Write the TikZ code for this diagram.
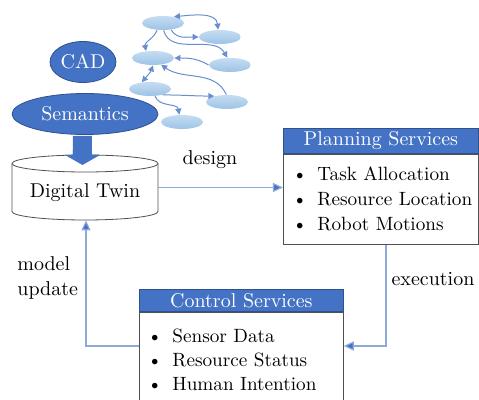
\documentclass[tikz,border=0pt]{standalone}
\usepackage{tikz}
\usetikzlibrary{shapes.geometric,arrows.meta,positioning}
\definecolor{dtblue}{HTML}{4472C4}
\definecolor{dtedge}{HTML}{2F528F}
\definecolor{dtlight}{HTML}{9DC3E6}
\definecolor{dtpale}{HTML}{C5DDF2}
\definecolor{dtline}{HTML}{8EA9DB}
\definecolor{dtgray}{HTML}{505050}

\tikzset{
  darkoval/.style={ellipse, draw=dtedge, fill=dtblue, text=white, inner sep=0pt, minimum height=20.5pt},
  smalloval/.style={ellipse, top color=dtpale, bottom color=dtlight, draw=none, minimum width=21pt, minimum height=7pt, inner sep=0pt},
  graphlink/.style={draw=dtblue!80, line width=0.5pt, -{Triangle[length=3pt,width=3pt]}},
  titlebar/.style={rectangle, draw=dtedge, fill=dtblue, text=white, minimum height=12.5pt, inner sep=0pt},
  listbox/.style={rectangle, draw=dtgray, fill=white, align=left, inner sep=0pt, font=\fontsize{9.6}{12.5}\selectfont},
  flow/.style={draw=dtline, line width=0.6pt, -{Triangle[length=5pt,width=4.5pt,fill=dtblue]}},
}

\begin{document}
\begin{tikzpicture}[x=0.5pt, y=-0.5pt]
   \useasboundingbox (0,0) rectangle (479,400);
   % knowledge graph
   \begin{scope}[every node/.style={smalloval}]
    \node (g1) at (163,23) {};
    \node (g2) at (220,37) {};
    \node (g3) at (153,58) {};
    \node (g4) at (230,65) {};
    \node (g5) at (150,89) {};
    \node (g6) at (227,102) {};
    \node (g7) at (182,122) {};
   \end{scope}
   \begin{scope}[every path/.style={graphlink}]
    \draw[{Triangle[length=3pt,width=3pt]}-{Triangle[length=3pt,width=3pt]}] (g1.30) to[out=5, in=95] (g2.105);
    \draw (g1.-40) to[out=-60, in=180] (g2.west);
    \draw (g1.230) to[out=-110, in=100] (g3.135);
    \draw (g1.-85) to[out=-75, in=120] (g4.110);
    \draw (g4.west) to[out=150, in=0] (g3.east);
    \draw[{Triangle[length=3pt,width=3pt]}-{Triangle[length=3pt,width=3pt]}] (g5.140) to[out=50, in=-110] (g3.-90);
    \draw (g6.95) to[out=115, in=-35] (g3.-40);
    \draw (g5.-25) to[out=0, in=180] (g6.155);
    \draw (g5.-55) to[out=-70, in=100] (g7.110);
   \end{scope}
   % sources of the twin
   \node[darkoval, minimum width=33pt] (cad) at (83,62) {CAD};
   \fill[dtblue] (73,136) -- (92,136) -- (92,155) -- (100,155) -- (82.5,165)
      -- (65,155) -- (73,155) -- cycle;
   \node[darkoval, minimum width=73pt] (sem) at (85,114) {Semantics};
   \draw[dtgray, fill=white] (12,163.5) -- (12,211.5)
      arc[start angle=180, end angle=360, x radius=36.5pt, y radius=4.25pt] -- (158,163.5)
      arc[start angle=0, end angle=180, x radius=36.5pt, y radius=4.25pt] -- cycle;
   \draw[dtgray] (12,163.5) arc[start angle=180, end angle=360, x radius=36.5pt, y radius=4.25pt];
   \fill[dtblue] (73,150) -- (92,150) -- (92,155) -- (100,155) -- (82.5,165)
      -- (65,155) -- (73,155) -- cycle;
   \node[minimum width=73pt, minimum height=32.5pt, inner sep=0pt] (twin) at (85,187.5) {};
   \node at (85,193) {Digital Twin};
   % services
   \node[titlebar, minimum width=97.5pt, anchor=north west] (plantitle) at (283,128) {Planning Services};
   \node[listbox, text width=97.5pt, minimum height=45pt, below=0pt of plantitle] (planlist)
      {\makebox[17pt][l]{\hspace{4.5pt}\textbullet}Task Allocation\\
       \makebox[17pt][l]{\hspace{4.5pt}\textbullet}Resource Location\\
       \makebox[17pt][l]{\hspace{4.5pt}\textbullet}Robot Motions};
   \node[titlebar, minimum width=102pt, minimum height=11pt, anchor=north west] (ctrltitle) at (139,289) {Control Services};
   \node[listbox, text width=102pt, minimum height=48pt, below=0pt of ctrltitle, font=\fontsize{9.6}{12}\selectfont] (ctrllist)
      {\makebox[16.5pt][l]{\hspace{4pt}\textbullet}Sensor Data\\
       \makebox[16.5pt][l]{\hspace{4pt}\textbullet}Resource Status\\
       \makebox[16.5pt][l]{\hspace{4pt}\textbullet}Human Intention};
   % flows
   \coordinate (execturn) at (386,346);
   \coordinate (updturn) at (86,346);
   \draw[flow] (twin.east) -- (planlist.west |- twin.east);
   \draw[flow] (planlist.south -| execturn) -- (execturn) -- (ctrllist.east |- execturn);
   \draw[flow] (ctrllist.west |- updturn) -- (updturn) -- (twin.south -| updturn);
   \node at (210,160) {design};
   \node at (433,279) {execution};
   \node[align=left, anchor=west, inner sep=0pt, font=\fontsize{10}{12.5}\selectfont] at (17,278) {model\\update};
\end{tikzpicture}
\end{document}
